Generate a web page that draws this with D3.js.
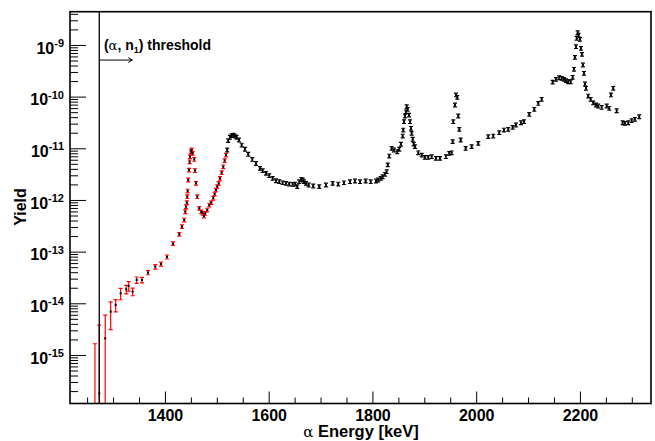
<!DOCTYPE html>
<html><head><meta charset="utf-8">
<script src="https://cdn.jsdelivr.net/npm/d3@7"></script>
<style>
body{margin:0;background:#fff;}
svg{display:block;font-family:"Liberation Sans",Arial,Helvetica,sans-serif;}
</style></head><body>
<svg id="c" width="655" height="441"></svg>
<script>
// ---------- DATA ----------
// red series (below the broad 1530 keV resonance)
const redEnergy = [1265.1,1273.4,1284.9,1295.4,1305.0,1314.6,1325.4,1330.1,1337.8,1345.5,
  1355.7,1367.3,1381.3,1392.3,1403.9,1415.5,1427.6,1432.8,1437.2,1439.2,
  1440.5,1442.4,1443.0,1443.8,1444.9,1446.3,1447.6,1448.2,1450.1,1451.5,
  1453.4,1456.5,1457.9,1459.8,1462.3,1466.2,1470.0,1472.7,1475.2,1477.7,
  1481.6,1485.4,1489.3,1493.1,1495.8,1498.3,1500.9,1503.6,1506.1,1509.3,
  1512.4,1515.1,1517.6];
const redYield = [8e-17,1.8e-16,2.1e-15,6.9e-15,9.3e-15,1.56e-14,1.87e-14,2.17e-14,1.68e-14,2.83e-14,
  2.83e-14,3.92e-14,5.1e-14,5.76e-14,7.9e-14,1.43e-13,2.17e-13,3.05e-13,4.1e-13,5.94e-13,
  7.4e-13,8.9e-13,1.16e-12,1.49e-12,2.44e-12,3.8e-12,5.5e-12,6.9e-12,8.6e-12,9.3e-12,
  8.0e-12,6.1e-12,3.7e-12,2.1e-12,1.16e-12,6.9e-13,5.9e-13,5.5e-13,4.9e-13,5.5e-13,
  6.4e-13,8.0e-13,8.9e-13,1.08e-12,1.31e-12,1.56e-12,1.81e-12,2.1e-12,2.63e-12,3.4e-12,
  4.4e-12,5.8e-12,7.4e-12];
const redError = [1.57e-15,3.6e-15,3.8e-15,3.8e-15,2.5e-15,3.9e-15,3.5e-15,4.5e-15,2.8e-15,4e-15,
  3.5e-15,3.5e-15,5e-15,5e-15,7e-15,1.1e-14,1.7e-14,2.4e-14,3.3e-14,4.8e-14,
  5.9e-14,7.1e-14,9.3e-14,1.2e-13,2.0e-13,3.0e-13,4.4e-13,5.5e-13,6.9e-13,7.4e-13,
  6.4e-13,4.9e-13,3.0e-13,1.7e-13,9.3e-14,5.5e-14,4.7e-14,4.4e-14,3.9e-14,4.4e-14,
  5.1e-14,6.4e-14,7.1e-14,8.6e-14,1.0e-13,1.2e-13,1.4e-13,1.7e-13,2.1e-13,2.7e-13,
  3.5e-13,4.6e-13,5.9e-13];

// black series
const blackEnergy = [1520.1,1522.0,1525.3,1528.6,1531.7,1535.0,1538.2,1542.7,1547.9,1554.2,
  1560.6,1568.3,1575.5,1583.2,1588.4,1594.7,1601.1,1607.6,1614.0,1620.4,
  1626.9,1633.3,1639.6,1646.2,1651.2,1655.1,1658.9,1662.8,1665.5,1668.0,
  1671.8,1677.0,1685.9,1697.5,1710.4,1723.3,1734.1,1745.1,1756.7,1766.3,
  1776.0,1786.9,1796.6,1806.8,1811.2,1815.9,1819.7,1824.1,1827.4,1829.5,
  1832.4,1837.0,1841.5,1847.8,1851.7,1855.0,1858.3,1859.4,1860.8,1862.7,
  1864.6,1866.0,1867.9,1870.4,1872.4,1874.3,1875.6,1877.6,1879.5,1882.0,
  1888.3,1894.9,1901.2,1907.6,1914.2,1922.4,1930.2,1941.7,1948.1,1952.7,
  1954.7,1955.8,1959.1,1961.0,1963.6,1965.5,1967.4,1970.1,1979.7,1991.3,
  2004.0,2023.3,2032.9,2044.5,2053.5,2061.8,2070.3,2076.6,2086.3,2092.1,
  2102.3,2112.0,2119.7,2126.2,2147.4,2153.8,2160.1,2164.8,2169.2,2173.1,
  2177.5,2182.1,2186.0,2188.5,2190.4,2192.4,2193.7,2195.6,2197.5,2200.0,
  2202.0,2203.9,2205.8,2207.8,2209.7,2211.6,2216.0,2220.7,2225.7,2230.9,
  2235.3,2241.9,2251.5,2256.5,2259.8,2264.2,2270.8,2282.3,2286.8,2293.1,
  2299.7,2306.0,2314.3];
const blackYield = [9.3e-12,1.41e-11,1.64e-11,1.76e-11,1.81e-11,1.73e-11,1.64e-11,1.45e-11,1.16e-11,9.6e-12,
  7.7e-12,6.1e-12,5.1e-12,4.1e-12,3.7e-12,3.29e-12,2.96e-12,2.63e-12,2.36e-12,2.26e-12,
  2.16e-12,2.1e-12,2.04e-12,2.01e-12,2.04e-12,1.81e-12,2.26e-12,2.52e-12,2.44e-12,2.26e-12,
  2.1e-12,1.95e-12,1.87e-12,1.81e-12,1.95e-12,2.1e-12,2.04e-12,2.16e-12,2.26e-12,2.33e-12,
  2.26e-12,2.33e-12,2.26e-12,2.33e-12,2.44e-12,2.63e-12,2.82e-12,3.15e-12,3.53e-12,4.8e-12,
  7.1e-12,1.0e-11,9.3e-12,8.6e-12,9.6e-12,1.2e-11,1.73e-11,2.26e-11,3.28e-11,4.23e-11,
  5.1e-11,6.4e-11,5.7e-11,4.4e-11,3.28e-11,2.44e-11,1.95e-11,1.5e-11,1.21e-11,1.08e-11,
  8.2e-12,7.4e-12,6.7e-12,6.7e-12,6.9e-12,6.4e-12,6.4e-12,6.9e-12,8.0e-12,8.2e-12,
  1.35e-11,3.28e-11,6.9e-11,1.08e-10,9.7e-11,4.23e-11,2.33e-11,1.45e-11,1.0e-11,1.08e-11,
  1.25e-11,1.68e-11,1.73e-11,2.01e-11,2.26e-11,2.33e-11,2.55e-11,2.83e-11,3.13e-11,3.28e-11,
  4.56e-11,5.7e-11,7.4e-11,8.9e-11,1.92e-10,2.17e-10,2.33e-10,2.26e-10,2.17e-10,2.04e-10,
  1.95e-10,1.95e-10,2.37e-10,3.39e-10,5.78e-10,9.27e-10,1.35e-9,1.73e-9,1.56e-9,1.29e-9,
  8.6e-10,6.6e-10,4.1e-10,2.83e-10,1.76e-10,1.45e-10,1.03e-10,8.9e-11,7.6e-11,6.9e-11,
  6.6e-11,6.2e-11,6.6e-11,5.96e-11,1.08e-10,1.45e-10,5.35e-11,3.13e-11,3.05e-11,3.13e-11,
  3.43e-11,3.65e-11,4.09e-11];
const blackError = [7.4e-13,1.1e-12,1.3e-12,1.4e-12,1.4e-12,1.4e-12,1.3e-12,1.2e-12,9.3e-13,7.7e-13,
  6.2e-13,4.9e-13,4.1e-13,3.3e-13,3.0e-13,2.6e-13,2.4e-13,2.1e-13,1.9e-13,1.8e-13,
  1.7e-13,1.7e-13,1.6e-13,1.6e-13,1.6e-13,1.4e-13,1.8e-13,2.0e-13,2.0e-13,1.8e-13,
  1.7e-13,1.6e-13,1.5e-13,1.4e-13,1.6e-13,1.7e-13,1.6e-13,1.7e-13,1.8e-13,1.9e-13,
  1.8e-13,1.9e-13,1.8e-13,1.9e-13,2.0e-13,2.1e-13,2.3e-13,2.5e-13,2.8e-13,3.8e-13,
  5.7e-13,8.0e-13,7.4e-13,6.9e-13,7.7e-13,9.6e-13,1.4e-12,1.8e-12,2.6e-12,3.4e-12,
  4.1e-12,5.1e-12,4.6e-12,3.5e-12,2.6e-12,2.0e-12,1.6e-12,1.2e-12,9.7e-13,8.6e-13,
  6.6e-13,5.9e-13,5.4e-13,5.4e-13,5.5e-13,5.1e-13,5.1e-13,5.5e-13,6.4e-13,6.6e-13,
  1.1e-12,2.6e-12,5.5e-12,8.6e-12,7.8e-12,3.4e-12,1.9e-12,1.2e-12,8.0e-13,8.6e-13,
  1.0e-12,1.3e-12,1.4e-12,1.6e-12,1.8e-12,1.9e-12,2.0e-12,2.3e-12,2.5e-12,2.6e-12,
  3.6e-12,4.6e-12,5.9e-12,7.1e-12,1.5e-11,1.7e-11,1.9e-11,1.8e-11,1.7e-11,1.6e-11,
  1.6e-11,1.6e-11,1.9e-11,2.7e-11,4.6e-11,7.4e-11,1.1e-10,1.4e-10,1.2e-10,1.0e-10,
  6.9e-11,5.3e-11,3.3e-11,2.3e-11,1.4e-11,1.2e-11,8.2e-12,7.1e-12,6.1e-12,5.5e-12,
  5.3e-12,5.0e-12,5.3e-12,4.8e-12,8.6e-12,1.2e-11,4.3e-12,2.5e-12,2.4e-12,2.5e-12,
  2.7e-12,2.9e-12,3.3e-12];

// axis ticks / labels
const xMajorTicks = [1400,1600,1800,2000,2200];
const xTickLabels = ["1400","1600","1800","2000","2200"];
const yMajorTicks = [1e-15,1e-14,1e-13,1e-12,1e-11,1e-10,1e-9];
const yTickExponents = ["-15","-14","-13","-12","-11","-10","-9"];
const xDomain = [1217, 2337];
const yDomain = [1.15e-16, 4.4e-9];
const thresholdEnergy = 1273.4;

// ---------- DRAW ----------
const W = 655, H = 441;
const F = {left:70, right:651, top:11.7, bottom:403.5};
const x = d3.scaleLinear().domain(xDomain).range([F.left, F.right]);
const y = d3.scaleLog().domain(yDomain).range([F.bottom, F.top]);
const svg = d3.select("#c");
svg.append("rect").attr("width", W).attr("height", H).attr("fill", "#fff");
svg.append("defs").append("clipPath").attr("id", "clip").append("rect")
  .attr("x", F.left).attr("y", F.top).attr("width", F.right - F.left).attr("height", F.bottom - F.top);

// minor ticks
const xMinor = d3.range(1250, 2301, 50).filter(v => !xMajorTicks.includes(v));
const yMinor = [];
for (let e = -17; e <= -9; e++) for (let k = 2; k <= 9; k++) {
  const v = k * Math.pow(10, e);
  if (v > yDomain[0] && v < yDomain[1]) yMinor.push(v);
}

const axStyle = g => { g.select(".domain").remove(); g.selectAll("line").attr("stroke", "#000").attr("stroke-width", 1); };

svg.append("g").attr("transform", `translate(0,${F.bottom})`)
  .call(d3.axisBottom(x).tickValues(xMinor).tickSize(-6).tickFormat("")).call(axStyle);
const gx = svg.append("g").attr("transform", `translate(0,${F.bottom})`)
  .call(d3.axisBottom(x).tickValues(xMajorTicks).tickSize(-12).tickPadding(6)
    .tickFormat((d, i) => xTickLabels[i])).call(axStyle);
gx.selectAll("text").attr("y", 17.3).attr("dy", null)
  .attr("font-size", 16).attr("font-weight", "bold").attr("fill", "#000")
  .attr("font-family", "'Liberation Sans',Arial,sans-serif");

svg.append("g").attr("transform", `translate(${F.left},0)`)
  .call(d3.axisLeft(y).tickValues(yMinor).tickSize(-8).tickFormat("")).call(axStyle);
const gy = svg.append("g").attr("transform", `translate(${F.left},0)`)
  .call(d3.axisLeft(y).tickValues(yMajorTicks).tickSize(-16).tickPadding(6).tickFormat(() => "")).call(axStyle);
gy.selectAll(".tick text").each(function(d, i) {
  const t = d3.select(this).attr("x", -6).attr("dy", null).attr("y", 8.3)
    .attr("font-size", 16).attr("font-weight", "bold").attr("fill", "#000")
    .attr("font-family", "'Liberation Sans',Arial,sans-serif");
  t.append("tspan").text("10");
  t.append("tspan").attr("dy", -6.6).attr("font-size", 11).text(yTickExponents[i]);
});

// data
const plot = svg.append("g").attr("clip-path", "url(#clip)");
function drawSeries(E, Y, Er, color) {
  const pts = E.map((e, i) => ({e, v: Y[i], er: Er[i]}));
  const g = plot.append("g");
  pts.forEach(p => {
    const px = x(p.e);
    const hi = y(p.v + p.er);
    const lo = (p.v - p.er) > 0 ? y(p.v - p.er) : F.bottom + 20;
    g.append("line").attr("x1", px).attr("x2", px).attr("y1", hi).attr("y2", lo)
      .attr("stroke", color).attr("stroke-width", 1.2);
    g.append("line").attr("x1", px - 2).attr("x2", px + 2).attr("y1", hi).attr("y2", hi)
      .attr("stroke", color).attr("stroke-width", 1.2);
    g.append("line").attr("x1", px - 2).attr("x2", px + 2).attr("y1", lo).attr("y2", lo)
      .attr("stroke", color).attr("stroke-width", 1.2);
  });
  g.selectAll("rect.m").data(pts).join("rect").attr("class", "m")
    .attr("x", d => x(d.e) - 1).attr("y", d => y(d.v) - 1).attr("width", 2).attr("height", 2)
    .attr("fill", "#000");
}
drawSeries(redEnergy, redYield, redError, "#ff0000");
drawSeries(blackEnergy, blackYield, blackError, "#000");

// threshold line + annotation
const tx = x(thresholdEnergy);
svg.append("line").attr("x1", tx).attr("x2", tx).attr("y1", F.top).attr("y2", F.bottom)
  .attr("stroke", "#000").attr("stroke-width", 1.3);
const ay = y(5.1e-10), ax2 = x(1337);
svg.append("line").attr("x1", tx).attr("x2", ax2).attr("y1", ay).attr("y2", ay).attr("stroke", "#000").attr("stroke-width", 1);
svg.append("path").attr("d", `M${ax2 - 4},${ay - 2.5}L${ax2},${ay}L${ax2 - 4},${ay + 2.5}`)
  .attr("fill", "none").attr("stroke", "#000").attr("stroke-width", 1);
const ann = svg.append("text").attr("x", x(1282.4)).attr("y", y(8.0e-10))
  .attr("font-size", 14).attr("font-weight", "bold").attr("fill", "#000");
ann.append("tspan").text("(");
ann.append("tspan").attr("font-weight", "normal").attr("font-family", "'DejaVu Serif','Liberation Serif',serif").attr("font-size", 13).text("α");
ann.append("tspan").text(", n");
ann.append("tspan").attr("font-size", 9).attr("dy", 3).text("1");
ann.append("tspan").attr("dy", -3).text(") threshold");

// frame
svg.append("rect").attr("x", F.left).attr("y", F.top).attr("width", F.right - F.left).attr("height", F.bottom - F.top)
  .attr("fill", "none").attr("stroke", "#000").attr("stroke-width", 1.6);

// axis titles
const xt = svg.append("text").attr("x", 361).attr("y", 437).attr("text-anchor", "middle")
  .attr("font-size", 16.5).attr("font-weight", "bold").attr("fill", "#000");
xt.append("tspan").attr("font-weight", "normal").attr("font-family", "'DejaVu Serif','Liberation Serif',serif").attr("font-size", 15).text("α");
xt.append("tspan").text(" Energy [keV]");
svg.append("text").attr("transform", "translate(26,207) rotate(-90)").attr("text-anchor", "middle")
  .attr("font-size", 16).attr("font-weight", "bold").attr("fill", "#000").text("Yield");
</script>
</body></html>
